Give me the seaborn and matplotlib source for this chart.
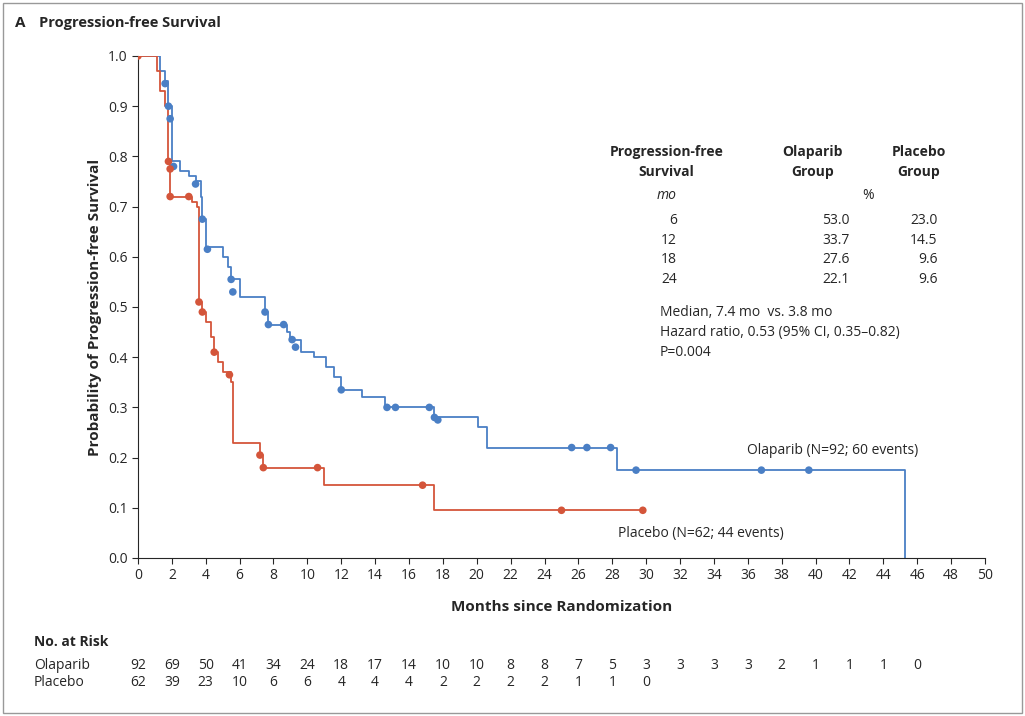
import matplotlib
matplotlib.use("Agg")
import matplotlib.pyplot as plt
import seaborn as sns
import numpy as np

sns.set_style("ticks")
plt.rcParams['font.family'] = ['Open Sans', 'DejaVu Sans']

ola_t = [0, 1.3, 1.6, 1.8, 2.0, 2.5, 3.0, 3.4, 3.7, 3.8, 4.0, 5.0, 5.3, 5.5, 6.0, 7.5, 7.7, 8.8, 9.0, 9.6, 10.4, 11.1, 11.6, 12.0, 13.2, 14.6, 17.5, 20.1, 20.6, 28.3, 45.3]
ola_s = [1.0, 0.97, 0.95, 0.90, 0.79, 0.77, 0.76, 0.75, 0.72, 0.675, 0.62, 0.60, 0.58, 0.555, 0.52, 0.49, 0.465, 0.45, 0.435, 0.41, 0.40, 0.38, 0.36, 0.335, 0.32, 0.30, 0.28, 0.26, 0.22, 0.175, 0.0]
ola_ct = [1.6, 1.8, 1.9, 2.1, 3.4, 3.8, 4.1, 5.5, 5.6, 7.5, 7.7, 8.6, 9.1, 9.3, 12.0, 14.7, 15.2, 17.2, 17.5, 17.7, 25.6, 26.5, 27.9, 29.4, 36.8, 39.6]
ola_cs = [0.945, 0.90, 0.875, 0.78, 0.745, 0.675, 0.615, 0.555, 0.53, 0.49, 0.465, 0.465, 0.435, 0.42, 0.335, 0.30, 0.30, 0.30, 0.28, 0.275, 0.22, 0.22, 0.22, 0.175, 0.175, 0.175]

pla_t = [0, 1.1, 1.3, 1.6, 1.8, 1.9, 3.2, 3.5, 3.6, 3.8, 4.0, 4.3, 4.5, 4.7, 5.0, 5.5, 5.6, 7.2, 7.4, 11.0, 17.5, 29.8]
pla_s = [1.0, 0.97, 0.93, 0.90, 0.79, 0.72, 0.71, 0.70, 0.51, 0.49, 0.47, 0.44, 0.41, 0.39, 0.37, 0.35, 0.23, 0.205, 0.18, 0.145, 0.095, 0.095]
pla_ct = [0.0, 1.8, 1.9, 1.9, 3.0, 3.6, 3.8, 4.5, 5.4, 7.2, 7.4, 10.6, 16.8, 25.0, 29.8]
pla_cs = [1.0, 0.79, 0.775, 0.72, 0.72, 0.51, 0.49, 0.41, 0.365, 0.205, 0.18, 0.18, 0.145, 0.095, 0.095]

risk_times = list(range(0, 48, 2))
ola_risk = [92, 69, 50, 41, 34, 24, 18, 17, 14, 10, 10, 8, 8, 7, 5, 3, 3, 3, 3, 2, 1, 1, 1, 0]
pla_risk = [62, 39, 23, 10, 6, 6, 4, 4, 4, 2, 2, 2, 2, 1, 1, 0]

BLUE = "#4a7fc5"
RED = "#d4553a"

fig = plt.figure(figsize=(10.25, 7.16), dpi=100)
ax = fig.add_axes([0.1346, 0.2207, 0.8264, 0.7011])
ax.step(ola_t, ola_s, where='post', color=BLUE, lw=1.3)
ax.step(pla_t, pla_s, where='post', color=RED, lw=1.3)
sns.scatterplot(x=ola_ct, y=ola_cs, ax=ax, color=BLUE, s=30, edgecolor='none', zorder=3)
sns.scatterplot(x=pla_ct, y=pla_cs, ax=ax, color=RED, s=30, edgecolor='none', zorder=3)

ax.set_xlim(0, 50)
ax.set_ylim(0, 1.0)
ax.set_xticks(range(0, 51, 2))
ax.set_yticks(np.arange(0, 1.01, 0.1))
ax.set_yticklabels([f"{v:.1f}" for v in np.arange(0, 1.01, 0.1)])
ax.tick_params(labelsize=10, length=4)
ax.spines['top'].set_visible(False)
ax.spines['right'].set_visible(False)
ax.set_xlabel("Months since Randomization", fontsize=11, fontweight='bold', labelpad=12)
ax.set_ylabel("Probability of Progression-free Survival", fontsize=11, fontweight='bold')

ax.text(41.0, 0.2, "Olaparib (N=92; 60 events)", fontsize=10, ha='center', va='bottom')
ax.text(33.2, 0.048, "Placebo (N=62; 44 events)", fontsize=10, ha='center', va='center')

fs = 10
for txt, x in [("Progression-free", 31.2), ("Olaparib", 39.8), ("Placebo", 46.1)]:
    ax.text(x, 0.809, txt, fontsize=fs, fontweight='bold', ha='center', va='center')
for txt, x in [("Survival", 31.2), ("Group", 39.8), ("Group", 46.1)]:
    ax.text(x, 0.769, txt, fontsize=fs, fontweight='bold', ha='center', va='center')
ax.text(31.2, 0.723, "mo", fontsize=fs, style='italic', ha='center', va='center')
ax.text(43.1, 0.723, "%", fontsize=fs, ha='center', va='center')
rows = [("6", "53.0", "23.0"), ("12", "33.7", "14.5"), ("18", "27.6", "9.6"), ("24", "22.1", "9.6")]
for i, (m, o, p) in enumerate(rows):
    yy = 0.673 - i * 0.0397
    ax.text(31.8, yy, m, fontsize=fs, ha='right', va='center')
    ax.text(42.0, yy, o, fontsize=fs, ha='right', va='center')
    ax.text(47.2, yy, p, fontsize=fs, ha='right', va='center')
for i, line in enumerate(["Median, 7.4 mo  vs. 3.8 mo", "Hazard ratio, 0.53 (95% CI, 0.35\u20130.82)", "P=0.004"]):
    ax.text(30.8, 0.49 - i * 0.04, line, fontsize=fs, ha='left', va='center')

fig.text(0.015, 0.962, "A", fontsize=11, fontweight='bold')
fig.text(0.038, 0.962, "Progression-free Survival", fontsize=10.5, fontweight='bold')

def xfig(m):
    return 0.1346 + 0.8264 * m / 50
fig.text(0.033, 0.098, "No. at Risk", fontsize=10, fontweight='bold')
fig.text(0.033, 0.066, "Olaparib", fontsize=10)
fig.text(0.033, 0.042, "Placebo", fontsize=10)
for t, n in zip(risk_times, ola_risk):
    fig.text(xfig(t), 0.066, str(n), fontsize=10, ha='center')
for t, n in zip(risk_times, pla_risk):
    fig.text(xfig(t), 0.042, str(n), fontsize=10, ha='center')

border = plt.Rectangle((0.003, 0.004), 0.994, 0.992, transform=fig.transFigure, fill=False, ec='#999999', lw=1)
fig.patches.append(border)

fig.savefig("out.png", dpi=100)
